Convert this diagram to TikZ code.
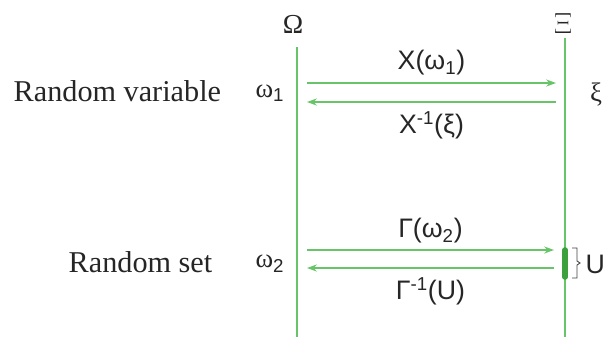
\documentclass[tikz,border=0pt]{standalone}
\usepackage{fontspec}
\setmainfont{Liberation Serif}
\newfontfamily\labelsans{Liberation Sans}
\usepackage{tikz}
\usetikzlibrary{arrows.meta}
\definecolor{mapG}{RGB}{104,196,104}
\definecolor{mapGd}{RGB}{60,160,60}
\newcommand{\lo}[1]{\textsubscript{\labelsans #1}}
\newcommand{\hi}[1]{\textsuperscript{\labelsans #1}}

\begin{document}
\begin{tikzpicture}[x=0.025cm, y=-0.025cm,
  axisline/.style={mapG, line width=1.6pt},
  maparrow/.style={mapG, line width=1.3pt, -{Stealth[length=7pt,width=5pt]}},
  maplabel/.style={inner sep=1pt, text=black!85, font=\labelsans\fontsize{19}{22}\selectfont},
  setname/.style={inner sep=1pt, text=black!85, font=\fontsize{19.5}{22}\selectfont},
  elem/.style={inner sep=1pt, text=black!85, font=\fontsize{19}{22}\selectfont},
  rowname/.style={inner sep=1pt, text=black!85, font=\fontsize{21.5}{25}\selectfont}]
\useasboundingbox (0,0) rectangle (603,337);
% the two spaces
\node[setname] (Omega) at (293,24) {Ω};
\node[setname] (Xi) at (563,24) {$\Xi$};
\coordinate (OmTop) at (297,47);
\coordinate (OmBot) at (297,337);
\coordinate (XiTop) at (565,38);
\coordinate (XiBot) at (565,337);
\draw[axisline] (OmTop) -- (OmBot);
\draw[axisline] (XiTop) -- (XiBot);
% random variable row
\node[rowname, anchor=base west] (rv) at (12,101) {Random variable};
\node[elem] (w1) at (270,93) {ω\lo{1}};
\node[elem] (xi) at (596,95) {ξ};
\coordinate (a1s) at (307,83);
\coordinate (a1e) at (556,83);
\coordinate (b1s) at (556,102);
\coordinate (b1e) at (307,102);
\draw[maparrow] (a1s) -- (a1e) node[maplabel, midway, above=4pt] (Xw) {X(ω\lo{1})};
\draw[maparrow] (b1s) -- (b1e) node[maplabel, midway, below=5pt] (Xinv) {X\hi{-1}(ξ)};
% random set row
\node[rowname, anchor=base west] (rs) at (67,272) {Random set};
\node[elem] (w2) at (270,264) {ω\lo{2}};
\coordinate (a2s) at (307,250);
\coordinate (a2e) at (554,250);
\coordinate (b2s) at (554,268);
\coordinate (b2e) at (307,268);
\draw[maparrow] (a2s) -- (a2e) node[maplabel, midway, above=3pt] (Gw) {Γ(ω\lo{2})};
\draw[maparrow] (b2s) -- (b2e) node[maplabel, midway, below=5pt] (Ginv) {Γ\hi{-1}(U)};
% the set U on the right space
\coordinate (Utop) at (565,250);
\coordinate (Ubot) at (565,277);
\draw[mapGd, line width=4pt, line cap=round] (Utop) -- (Ubot);
\draw[black!75, line width=0.6pt] (572,248) -- (577,248) -- (577,261) -- (580,263) -- (577,265) -- (577,278) -- (572,278);
\node[maplabel, anchor=west] (U) at (584,264) {U};
\end{tikzpicture}
\end{document}
